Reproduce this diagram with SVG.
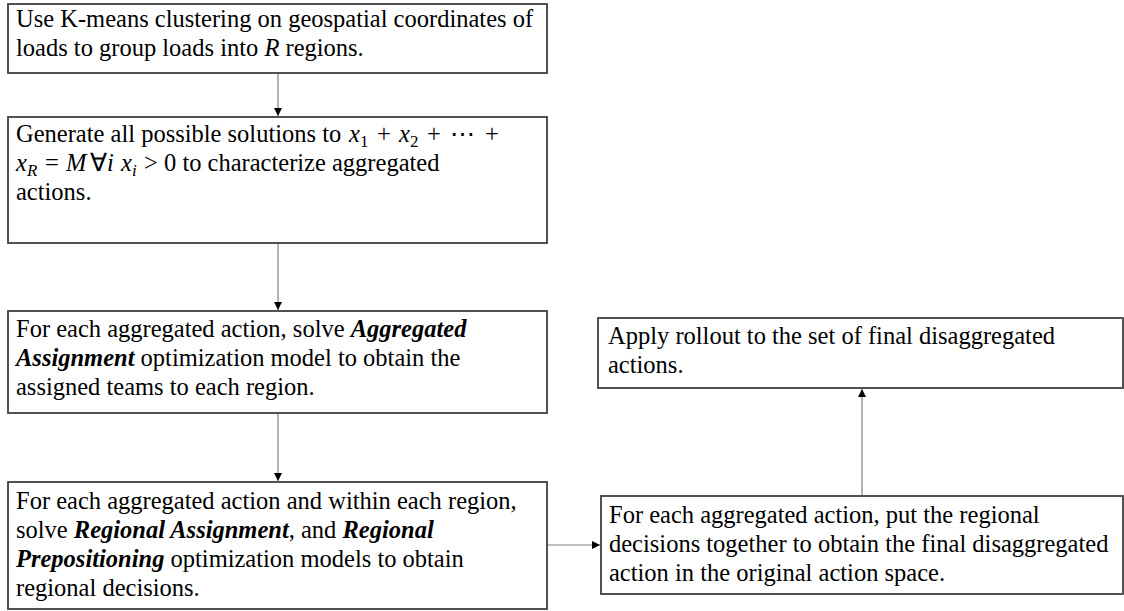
<svg xmlns="http://www.w3.org/2000/svg" width="1124" height="611" viewBox="0 0 1124 611">
<style>
.box{fill:#fff;stroke:#404040;stroke-width:1.8}
.t{font-family:"Liberation Serif","Times New Roman",serif;font-size:24.5px;fill:#000}
.bi{font-weight:bold;font-style:italic}
.it{font-style:italic}
.sub{font-size:17px}
.con{stroke:#808080;stroke-width:1.2;fill:none}
</style>
<defs>
<marker id="ah" viewBox="0 0 10 10" refX="10" refY="5" markerWidth="8" markerHeight="8" markerUnits="userSpaceOnUse" orient="auto">
<path d="M0,0 L10,5 L0,10 z" fill="#000"/>
</marker>
</defs>
<rect width="1124" height="611" fill="#fff"/>
<g id="connectors">
<line class="con" x1="278" y1="73" x2="278" y2="116" marker-end="url(#ah)"/>
<line class="con" x1="278" y1="243" x2="278" y2="310" marker-end="url(#ah)"/>
<line class="con" x1="278" y1="413" x2="278" y2="481" marker-end="url(#ah)"/>
<line class="con" x1="547" y1="545" x2="600" y2="545" marker-end="url(#ah)"/>
<line class="con" x1="862" y1="496" x2="862" y2="389" marker-end="url(#ah)"/>
</g>
<g id="n1">
<rect class="box" x="8" y="4" width="539" height="69"/>
<text class="t" x="16" y="27">Use K-means clustering on geospatial coordinates of</text>
<text class="t" x="16" y="56">loads to group loads into <tspan class="it">R</tspan> regions.</text>
</g>
<g id="n2">
<rect class="box" x="8" y="117" width="539" height="126"/>
<text class="t" x="16" y="142">Generate all possible solutions to <tspan class="it" x="349">x</tspan><tspan class="sub" x="360" dy="5">1</tspan><tspan x="377" dy="-5">+</tspan><tspan class="it" x="399">x</tspan><tspan class="sub" x="410" dy="5">2</tspan><tspan x="427" dy="-5">+</tspan><tspan x="450">⋯</tspan><tspan x="485">+</tspan></text>
<text class="t" x="16" y="171"><tspan class="it">x</tspan><tspan class="sub it" x="27" dy="5">R</tspan><tspan x="45" dy="-5">=</tspan><tspan class="it" x="66">M</tspan><tspan x="90">∀</tspan><tspan class="it" x="107">i</tspan><tspan class="it" x="121">x</tspan><tspan class="sub it" x="132" dy="5">i</tspan><tspan x="144" dy="-5">&gt;</tspan><tspan x="164">0 to characterize aggregated</tspan></text>
<text class="t" x="16" y="200">actions.</text>
</g>
<g id="n3">
<rect class="box" x="8" y="311" width="539" height="102"/>
<text class="t" x="16" y="337">For each aggregated action, solve <tspan class="bi">Aggregated</tspan></text>
<text class="t" x="16" y="366"><tspan class="bi">Assignment</tspan> optimization model to obtain the</text>
<text class="t" x="16" y="395">assigned teams to each region.</text>
</g>
<g id="n4">
<rect class="box" x="8" y="482" width="539" height="127"/>
<text class="t" x="16" y="509">For each aggregated action and within each region,</text>
<text class="t" x="16" y="538">solve <tspan class="bi">Regional Assignment</tspan>, and <tspan class="bi">Regional</tspan></text>
<text class="t" x="16" y="567"><tspan class="bi">Prepositioning</tspan> optimization models to obtain</text>
<text class="t" x="16" y="596">regional decisions.</text>
</g>
<g id="n5">
<rect class="box" x="601" y="496" width="522" height="98"/>
<text class="t" x="609" y="523">For each aggregated action, put the regional</text>
<text class="t" x="609" y="552">decisions together to obtain the final disaggregated</text>
<text class="t" x="609" y="581">action in the original action space.</text>
</g>
<g id="n6">
<rect class="box" x="598" y="318" width="525" height="70"/>
<text class="t" x="608" y="344">Apply rollout to the set of final disaggregated</text>
<text class="t" x="608" y="373">actions.</text>
</g>
</svg>
